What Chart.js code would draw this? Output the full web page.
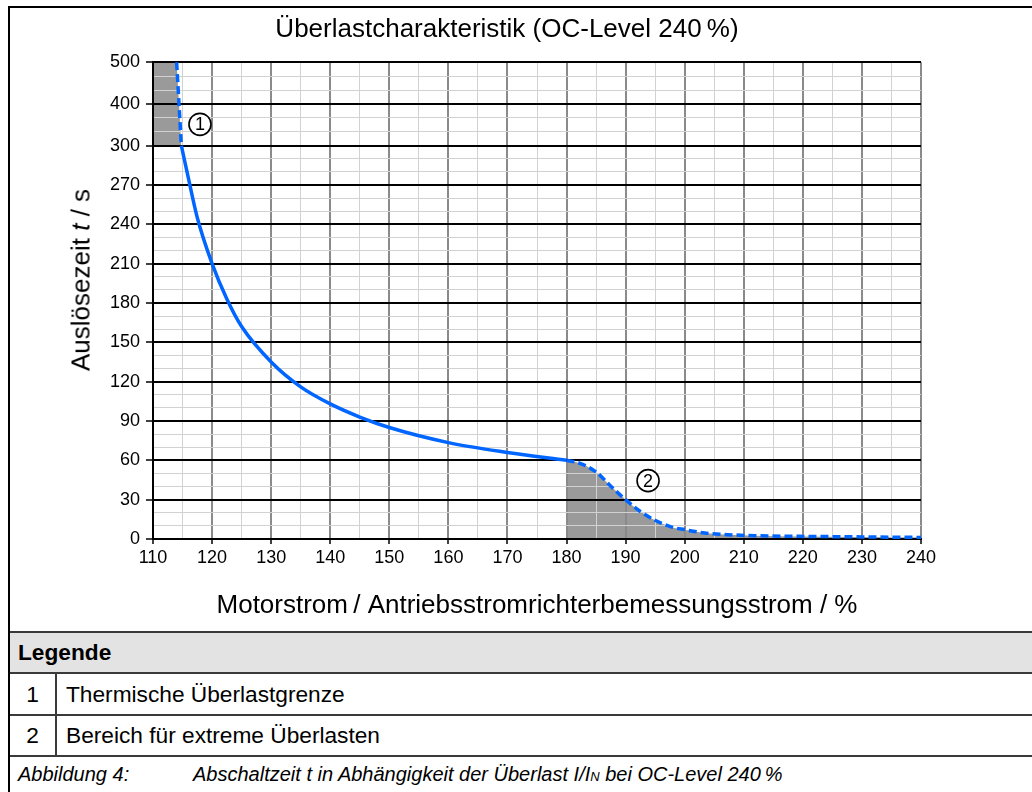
<!DOCTYPE html>
<html>
<head>
<meta charset="utf-8">
<script src="https://cdn.jsdelivr.net/npm/chart.js@4/dist/chart.umd.min.js"></script>
<style>
  body { margin: 0; width: 1032px; height: 792px; position: relative; overflow: hidden; background: #fff;
         font-family: 'Liberation Sans', Arial, sans-serif; color: #000; }
  #frame { position: absolute; left: 8px; top: 6px; width: 1040px; height: 800px;
           border-left: 2px solid #000; border-top: 2px solid #000; }
  #wrap { position: absolute; left: 10px; top: 8px; width: 1022px; height: 624px; }
  #ytitle { position: absolute; left: 81px; top: 280px; font-size: 26px; white-space: nowrap;
            transform: translate(-50%, -50%) rotate(-90deg); }
  .row { position: absolute; left: 10px; width: 1030px; border-top: 2px solid #3a3a3a; font-size: 22.7px;
         display: flex; align-items: center; box-sizing: border-box; }
  .num { width: 47px; text-align: center; height: 100%; display: flex; align-items: center; justify-content: center;
         border-right: 2px solid #3a3a3a; box-sizing: border-box; }
  .txt { padding-left: 9px; }
</style>
</head>
<body>
<div id="frame"></div>
<div id="wrap"><canvas id="chart"></canvas></div>
<div id="ytitle">Auslösezeit <i>t</i> / s</div>

<div class="row" style="top:631px;height:41px;background:#e3e3e3;font-weight:bold;padding-left:8px">Legende</div>
<div class="row" style="top:672px;height:42px"><div class="num">1</div><div class="txt">Thermische Überlastgrenze</div></div>
<div class="row" style="top:714px;height:41px"><div class="num">2</div><div class="txt">Bereich für extreme Überlasten</div></div>
<div class="row" style="top:755px;height:37px;font-style:italic;font-size:20px;padding-left:8px">
  <span style="display:inline-block;width:175px">Abbildung 4:</span>
  <span>Abschaltzeit t in Abhängigkeit der Überlast I/I<span style="font-size:13px">N</span> bei OC-Level 240&#8201;%</span>
</div>

<script>
// thermal limit (solid), x = motor current in %, t = trip time in s
const solidX = [114.8, 116, 117.5, 120, 122.5, 125, 130, 135, 140, 145, 150, 160, 170, 180];
const solidT = [300, 275, 245, 210, 183, 162, 135, 116, 103, 93, 85, 73.5, 66, 60];

// dashed part above 300 s
const upperX = [114.0, 114.4, 114.8];
const upperT = [500, 400, 300];

// dashed part, extreme overload range
const extremeX = [180, 182.4, 185.2, 187.5, 190, 192.5, 194.8, 197.7, 200, 203.4, 207.3, 211.8, 220, 230, 240];
const extremeT = [60, 57.5, 50.4, 40.2, 30, 21, 14.7, 9.2, 7.1, 4.6, 3.3, 2.5, 2.0, 1.6, 1.2];

// shaded box under the upper dashed part (filled down to 300 s)
const boxX = [110, 114.0, 114.4, 114.8];
const boxT = [500, 500, 400, 300];

// y tick labels (0..300 step 30, then 400, 500)
const yTickLabels = [0, 30, 60, 90, 120, 150, 180, 210, 240, 270, 300, 400, 500];

const blue = '#0066ff';
const shade = '#9a9a9a';

// y axis is linear up to 300 s, then 100 s per grid step
const UPPER = 1.06;
function toAxis(v) {
  return v <= 300 ? v / 30 : 10 + (v - 300) / 100 * UPPER;
}
function pts(xs, ts) {
  return xs.map((x, i) => ({x: x, y: toAxis(ts[i])}));
}

// y ticks: majors at the labels, two minors in between
const yTicks = [];
const yLabelOf = [];
const yIsMajor = [];
for (let i = 0; i < yTickLabels.length; i++) {
  const v = yTickLabels[i];
  yTicks.push(toAxis(v)); yLabelOf.push(String(v)); yIsMajor.push(true);
  if (i < yTickLabels.length - 1) {
    const step = (yTickLabels[i + 1] - v) / 3;
    for (let k = 1; k < 3; k++) {
      yTicks.push(toAxis(v + step * k)); yLabelOf.push(''); yIsMajor.push(false);
    }
  }
}

const marks = [{n: '1', x: 117.95, t: 351}, {n: '2', x: 193.8, t: 44.5}];

const circledNumbers = {
  id: 'circledNumbers',
  afterDatasetsDraw(chart) {
    const ctx = chart.ctx;
    const xs = chart.scales.x, ys = chart.scales.y;
    ctx.save();
    marks.forEach(m => {
      const px = xs.getPixelForValue(m.x);
      const py = ys.getPixelForValue(toAxis(m.t));
      ctx.beginPath();
      ctx.arc(px, py, 11, 0, Math.PI * 2);
      ctx.fillStyle = '#fff';
      ctx.fill();
      ctx.lineWidth = 1.6;
      ctx.strokeStyle = '#000';
      ctx.stroke();
      ctx.fillStyle = '#000';
      ctx.font = '18px "Liberation Sans", Arial, sans-serif';
      ctx.textAlign = 'center';
      ctx.textBaseline = 'middle';
      ctx.fillText(m.n, px, py + 1);
    });
    ctx.restore();
  }
};

const tickFont = {family: "'Liberation Sans', Arial, sans-serif", size: 18};

new Chart(document.getElementById('chart'), {
  type: 'line',
  data: {
    datasets: [
      {
        data: pts(boxX, boxT),
        borderWidth: 0,
        borderColor: 'rgba(0,0,0,0)',
        backgroundColor: shade,
        pointRadius: 0,
        fill: {value: toAxis(300)}
      },
      {
        data: pts(extremeX, extremeT),
        borderColor: blue,
        borderWidth: 3.5,
        borderDash: [8, 4],
        backgroundColor: shade,
        pointRadius: 0,
        cubicInterpolationMode: 'monotone',
        fill: 'origin'
      },
      {
        data: pts(upperX, upperT),
        borderColor: blue,
        borderWidth: 3.5,
        borderDash: [8, 4],
        pointRadius: 0,
        cubicInterpolationMode: 'monotone',
        fill: false
      },
      {
        data: pts(solidX, solidT),
        borderColor: blue,
        borderWidth: 3.5,
        pointRadius: 0,
        cubicInterpolationMode: 'monotone',
        fill: false
      }
    ]
  },
  options: {
    responsive: true,
    maintainAspectRatio: false,
    animation: false,
    layout: {padding: {left: 83, right: 111, top: 0, bottom: 0}},
    plugins: {
      legend: {display: false},
      tooltip: {enabled: false},
      filler: {drawTime: 'beforeDraw'},
      title: {
        display: true,
        text: 'Überlastcharakteristik (OC-Level 240\u2009%)',
        color: '#000',
        font: {family: "'Liberation Sans', Arial, sans-serif", size: 26, weight: 'normal'},
        padding: {top: 6, bottom: 17}
      }
    },
    scales: {
      x: {
        type: 'linear',
        min: 110,
        max: 240,
        afterFit: s => { s.height = 93; },
        ticks: {
          stepSize: 5,
          autoSkip: false,
          maxRotation: 0,
          color: '#000',
          font: tickFont,
          padding: 3,
          callback: v => (v % 10 === 0 ? String(v) : '')
        },
        grid: {
          color: c => (c.tick && c.tick.value % 10 === 0 ? '#8a8a8a' : '#d2d2d2'),
          lineWidth: c => (c.tick && c.tick.value % 10 === 0 ? 2 : 1),
          tickColor: c => (c.tick && c.tick.value % 10 === 0 ? '#000' : 'rgba(0,0,0,0)'),
          tickLength: 5,
          tickWidth: 1.5
        },
        border: {color: '#000', width: 2},
        title: {
          display: true,
          text: 'Motorstrom\u2009/ Antriebsstromrichterbemessungsstrom / %',
          color: '#000',
          font: {family: "'Liberation Sans', Arial, sans-serif", size: 26},
          padding: {top: 0, bottom: 11}
        }
      },
      y: {
        type: 'linear',
        min: 0,
        max: toAxis(500),
        afterFit: s => { s.width = 60; },
        afterBuildTicks: axis => { axis.ticks = yTicks.map(v => ({value: v})); },
        ticks: {
          autoSkip: false,
          color: '#000',
          font: tickFont,
          padding: 6,
          callback: (v, i) => yLabelOf[i]
        },
        grid: {
          color: c => (yIsMajor[c.index] ? '#000' : '#d2d2d2'),
          lineWidth: c => (yIsMajor[c.index] ? 2 : 1),
          tickColor: c => (yIsMajor[c.index] ? '#000' : 'rgba(0,0,0,0)'),
          tickLength: 7,
          tickWidth: 1.5
        },
        border: {color: '#000', width: 2}
      }
    }
  },
  plugins: [circledNumbers]
});
</script>
</body>
</html>
